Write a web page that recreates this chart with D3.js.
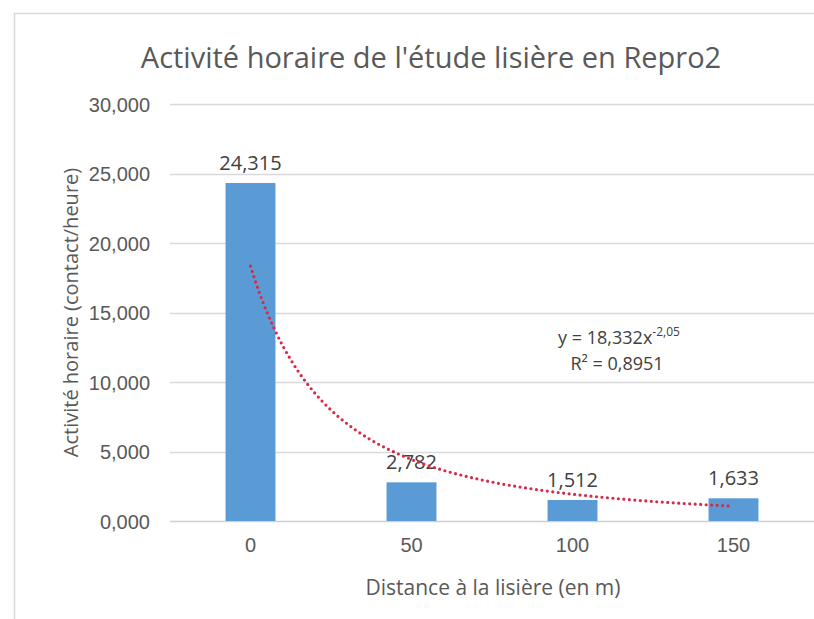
<!DOCTYPE html>
<html>
<head>
<meta charset="utf-8">
<script src="https://cdn.jsdelivr.net/npm/d3@7"></script>
<style>
  body { margin: 0; background: #fff; }
  svg { display: block; font-family: "Open Sans", sans-serif; }
</style>
</head>
<body>
<div id="chart"></div>
<script>
// Données
const distances = ["0", "50", "100", "150"];
const activite = [24.315, 2.782, 1.512, 1.633];
const yTicks = [0, 5, 10, 15, 20, 25, 30];
// Courbe de tendance (puissance) affichée par Excel
const trendCoef = 18.332;
const trendExp = -2.05;
const trendR2 = "0,8951";

const width = 814, height = 619;
const margin = { top: 104, right: 0, bottom: 98, left: 170 };

const fr = d3.formatLocale({ decimal: ",", thousands: " ", grouping: [3], currency: ["", " €"] });
const fmt = fr.format(".3f");

const svg = d3.select("#chart").append("svg")
    .attr("width", width)
    .attr("height", height);

// cadre du graphique
svg.append("path")
    .attr("d", `M14.5,${height} V13.5 H${width}`)
    .attr("fill", "none")
    .attr("stroke", "#d9d9d9")
    .attr("stroke-width", 1.5);

const x = d3.scaleBand()
    .domain(distances)
    .range([margin.left, width - margin.right])
    .paddingInner(0.69)
    .paddingOuter(0.345);

const y = d3.scaleLinear()
    .domain([0, 30])
    .range([height - margin.bottom, margin.top]);

// lignes de quadrillage
svg.append("g")
    .selectAll("line")
    .data(yTicks)
    .enter()
    .append("line")
    .attr("x1", margin.left)
    .attr("x2", width)
    .attr("y1", d => Math.round(y(d)) + 0.5)
    .attr("y2", d => Math.round(y(d)) + 0.5)
    .attr("stroke", d => d === 0 ? "#d0d0d0" : "#d9d9d9")
    .attr("stroke-width", 1.3);

// axe Y (étiquettes seulement)
const yAxis = svg.append("g")
    .attr("transform", `translate(${margin.left - 20},0)`)
    .call(d3.axisLeft(y).tickValues(yTicks).tickSize(0).tickFormat(fmt));
yAxis.select(".domain").remove();
yAxis.selectAll("text")
    .attr("fill", "#595959")
    .style("font-size", "20px")
    .attr("x", 0)
    .attr("dy", "0.35em");

// axe X
const xAxis = svg.append("g")
    .attr("transform", `translate(0,${height - margin.bottom})`)
    .call(d3.axisBottom(x).tickSize(0));
xAxis.select(".domain").remove();
xAxis.selectAll("text")
    .attr("fill", "#595959")
    .style("font-size", "20px")
    .attr("y", 17)
    .attr("dy", "0.71em");

// barres
svg.append("g")
    .selectAll("rect")
    .data(activite)
    .enter()
    .append("rect")
    .attr("x", (d, i) => x(distances[i]))
    .attr("width", x.bandwidth())
    .attr("y", d => y(d))
    .attr("height", d => y(0) - y(d))
    .attr("fill", "#5b9bd5");

// étiquettes de données
svg.append("g")
    .selectAll("text")
    .data(activite)
    .enter()
    .append("text")
    .attr("x", (d, i) => x(distances[i]) + x.bandwidth() / 2)
    .attr("y", d => y(d) - 13)
    .attr("text-anchor", "middle")
    .attr("fill", "#404040")
    .style("font-size", "20px")
    .text(d => fmt(d));

// courbe de tendance : x = rang de la catégorie (1..4)
const xRank = d3.scaleLinear()
    .domain([1, distances.length])
    .range([x(distances[0]) + x.bandwidth() / 2, x(distances[distances.length - 1]) + x.bandwidth() / 2]);

const trendPts = d3.range(1, distances.length + 0.001, 0.05).map(t => [t, trendCoef * Math.pow(t, trendExp)]);

svg.append("path")
    .datum(trendPts)
    .attr("fill", "none")
    .attr("stroke", "#d62a45")
    .attr("stroke-width", 3.2)
    .attr("stroke-linecap", "round")
    .attr("stroke-dasharray", "0 5.5")
    .attr("d", d3.line().x(d => xRank(d[0])).y(d => y(d[1])).curve(d3.curveMonotoneX));

// équation
const eq = svg.append("text")
    .attr("x", 619)
    .attr("y", 344)
    .attr("text-anchor", "middle")
    .attr("fill", "#404040")
    .style("font-size", "18px");
eq.append("tspan").text("y = " + fr.format(".3f")(trendCoef) + "x");
eq.append("tspan").attr("dy", -8).style("font-size", "12px").text(fr.format(".2f")(trendExp).replace("−", "-"));

svg.append("text")
    .attr("x", 617)
    .attr("y", 370)
    .attr("text-anchor", "middle")
    .attr("fill", "#404040")
    .style("font-size", "18px")
    .text("R² = " + trendR2);

// titre
svg.append("text")
    .attr("x", 431)
    .attr("y", 68)
    .attr("text-anchor", "middle")
    .attr("fill", "#595959")
    .style("font-size", "29px")
    .text("Activité horaire de l'étude lisière en Repro2");

// titres des axes
svg.append("text")
    .attr("transform", `translate(78,${y(15)}) rotate(-90)`)
    .attr("text-anchor", "middle")
    .attr("fill", "#595959")
    .style("font-size", "20px")
    .text("Activité horaire (contact/heure)");

svg.append("text")
    .attr("x", 493)
    .attr("y", 595)
    .attr("text-anchor", "middle")
    .attr("fill", "#595959")
    .style("font-size", "21px")
    .text("Distance à la lisière (en m)");
</script>
</body>
</html>
